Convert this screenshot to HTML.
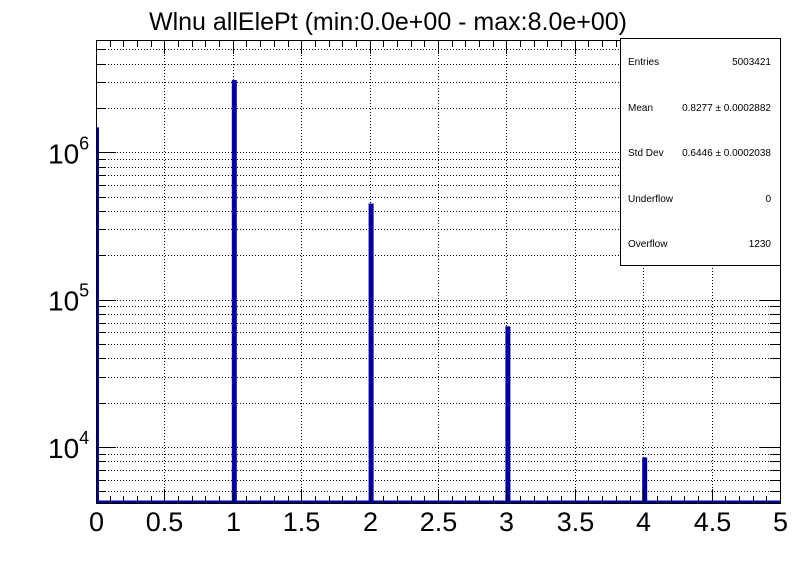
<!DOCTYPE html>
<html><head><meta charset="utf-8"><style>
body{margin:0;background:#fff;}
svg text{font-family:"Liberation Sans",sans-serif;}
</style></head><body>
<svg id="c" width="796" height="572" xmlns="http://www.w3.org/2000/svg">
<rect width="796" height="572" fill="#fff"/>
<text x="388" y="30" font-size="25" text-anchor="middle">Wlnu allElePt (min:0.0e+00 - max:8.0e+00)</text>
<g id="grid"></g><g id="bars"></g><g id="axes"></g>
<g>
<rect x="620.5" y="38.5" width="160" height="227" fill="#fff" stroke="#000"/>
<g font-size="10">
<text x="628" y="65">Entries</text><text x="771" y="65" text-anchor="end">5003421</text>
<text x="628" y="111">Mean</text><text x="771" y="111" text-anchor="end">0.8277 ± 0.0002882</text>
<text x="628" y="156">Std Dev</text><text x="771" y="156" text-anchor="end">0.6446 ± 0.0002038</text>
<text x="628" y="202">Underflow</text><text x="771" y="202" text-anchor="end">0</text>
<text x="628" y="247">Overflow</text><text x="771" y="247" text-anchor="end">1230</text>
</g></g>
</svg>
<script>
const categories=[0,1,2,3,4];
const counts=[1480000,3100000,450000,66000,8500];
const xTicks=["0","0.5","1","1.5","2","2.5","3","3.5","4","4.5","5"];
const yDecades=[4,5,6];
const X0=96,X1=780,Y0=40,Y1=503;
const xMin=0,xMax=5,lMin=Math.log10(4170),lMax=Math.log10(5.8e6);
const sx=v=>X0+(v-xMin)/(xMax-xMin)*(X1-X0);
const sy=v=>Y1-(Math.log10(v)-lMin)/(lMax-lMin)*(Y1-Y0);
const NS="http://www.w3.org/2000/svg";
function mk(p,t,a){const e=document.createElementNS(NS,t);for(const k in a)e.setAttribute(k,a[k]);p.appendChild(e);return e;}
const G=document.getElementById('grid'),B=document.getElementById('bars'),A=document.getElementById('axes');
for(let d=3;d<=6;d++)for(let m=1;m<=9;m++){const v=m*Math.pow(10,d);const l=Math.log10(v);if(l<lMin||l>lMax)continue;const y=Math.round(sy(v))+0.5;
const gl=mk(G,'line',{x1:X0,x2:X1,y1:y,y2:y,stroke:'#000','stroke-dasharray':'1,2','stroke-width':1});

mk(A,'line',{x1:X0,x2:X0+(m==1?20:10),y1:y,y2:y,stroke:'#000'});
mk(A,'line',{x1:X1,x2:X1-(m==1?20:10),y1:y,y2:y,stroke:'#000'});}
xTicks.forEach((t,i)=>{const v=i*0.5;const x=Math.round(sx(v))+0.5;
if(i>0&&i<xTicks.length-1){const gl=mk(G,'line',{x1:x,x2:x,y1:Y0,y2:Y1,stroke:'#000','stroke-dasharray':'1,2'});}
const tx=mk(A,'text',{x:x,y:531,'font-size':27,'text-anchor':'middle'});tx.textContent=t;
});
for(let i=0;i<=50;i++){const x=Math.round(sx(i*0.1))+0.5;const L=i%5==0?14:7;
mk(A,'line',{x1:x,x2:x,y1:Y1,y2:Y1-L,stroke:'#000'});mk(A,'line',{x1:x,x2:x,y1:Y0,y2:Y0+L,stroke:'#000'});}
yDecades.forEach(d=>{const y=sy(Math.pow(10,d));const t=mk(A,'text',{x:48,y:y+11,'font-size':28});
t.innerHTML='10<tspan dy="-14" font-size="18">'+d+'</tspan>';
});
mk(A,'rect',{x:X0+0.5,y:Y0+0.5,width:X1-X0,height:Y1-Y0,fill:'none',stroke:'#000'});
categories.forEach((c,i)=>{const x=sx(c);const w=c==0?3:5;const y=sy(counts[i]);
const r=mk(B,'rect',{x:c==0?x:x-1,y:y,width:w,height:Y1-y,fill:'#000099'});
});
mk(B,'line',{x1:X0,x2:X1,y1:Y1-1,y2:Y1-1,stroke:'#000099','stroke-width':3});
</script>
</body></html>
